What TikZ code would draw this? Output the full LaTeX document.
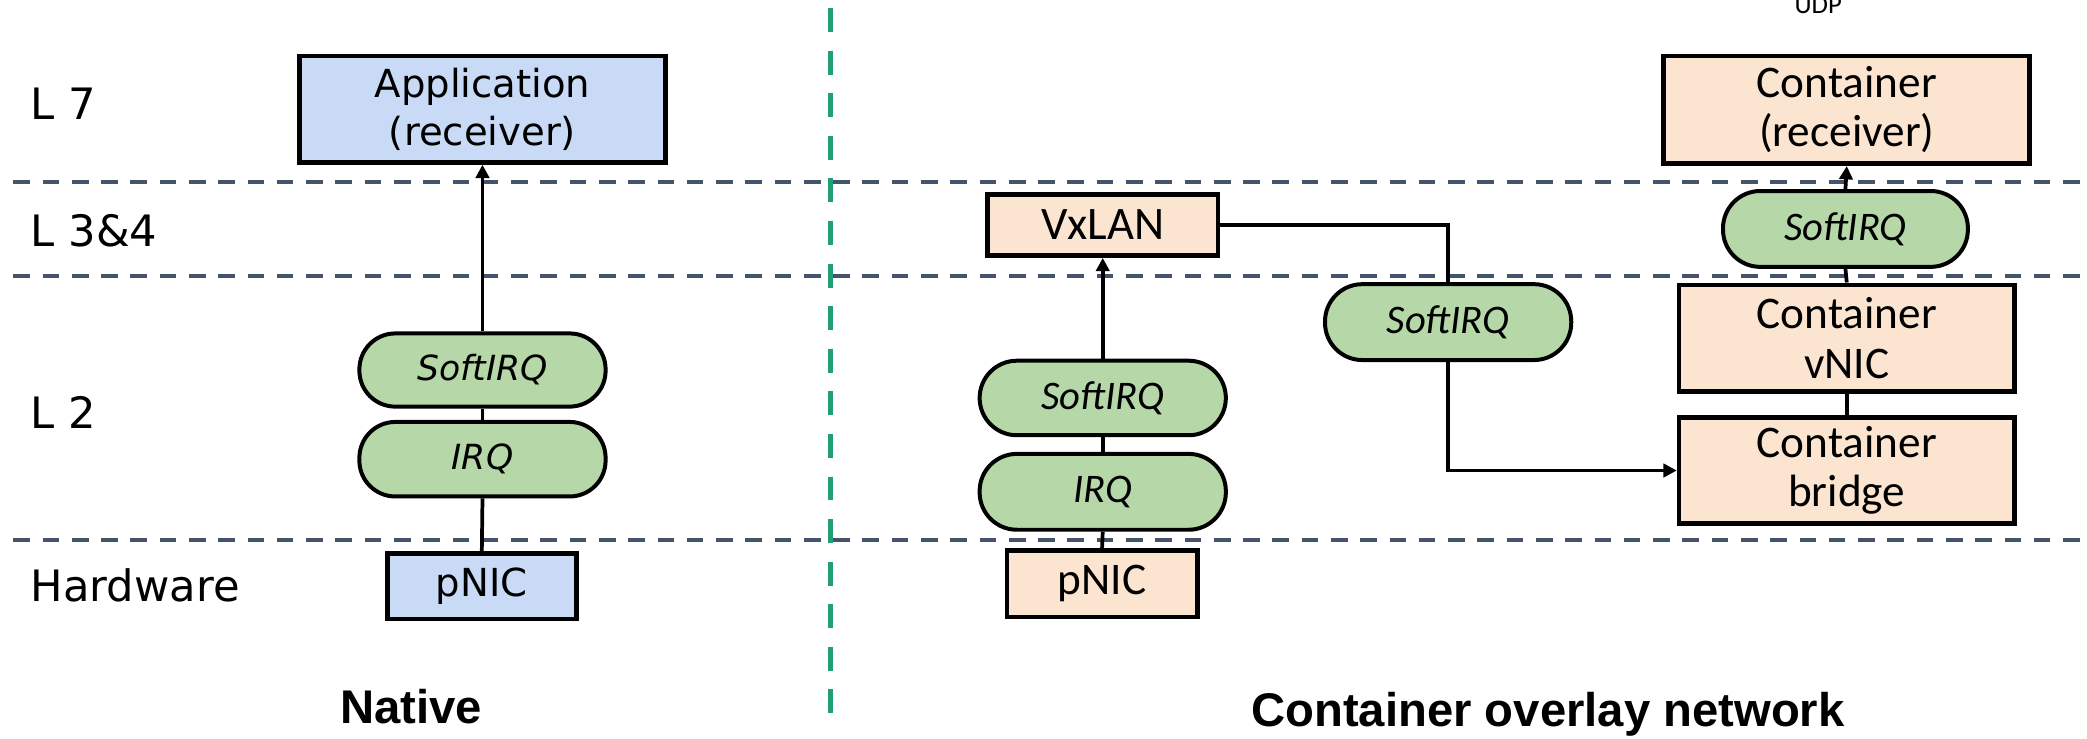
\documentclass[tikz,border=0pt]{standalone}
\usepackage{fontspec}
\setmainfont{DejaVu Sans}
\newfontfamily\calfont{Carlito}
\newfontfamily\titlefont{Liberation Sans}
\usetikzlibrary{arrows.meta}
\definecolor{boxblue}{RGB}{200,218,246}
\definecolor{boxorange}{RGB}{251,229,208}
\definecolor{pillgreen}{RGB}{182,215,168}
\definecolor{layerdash}{RGB}{68,84,106}
\definecolor{sepgreen}{RGB}{34,158,120}
\tikzset{
  layerline/.style={draw=layerdash, line width=3pt, dash pattern=on 12.5pt off 9.5pt},
  sepline/.style={draw=sepgreen, line width=3.5pt, dash pattern=on 18pt off 14pt},
  boxbase/.style={draw, line width=3.5pt, rectangle, inner sep=0pt, align=center},
  bluebox/.style={boxbase, fill=boxblue, font=\fontsize{29}{36}\selectfont},
  orangebox/.style={boxbase, fill=boxorange, font=\calfont\fontsize{34}{37}\selectfont},
  pillL/.style={draw, line width=3pt, fill=pillgreen, rounded corners=27pt, inner sep=0pt,
     minimum width=185pt, minimum height=55pt, font=\itshape\fontsize{26}{30}\selectfont},
  pillR/.style={draw, line width=3pt, fill=pillgreen, rounded corners=28pt, inner sep=0pt,
     minimum width=184pt, minimum height=56pt, font=\calfont\itshape\fontsize{30.5}{34}\selectfont},
  conn/.style={draw, line width=2.8pt},
  arr/.style={conn, -{Triangle[width=10pt,length=10pt]}},
  layerlabel/.style={anchor=west, inner sep=0pt, font=\fontsize{32.5}{36}\selectfont},
  titletext/.style={inner sep=0pt, font=\titlefont\bfseries\fontsize{35.5}{40}\selectfont}
}
\begin{document}
\begin{tikzpicture}[x=1pt,y=-1pt]
\useasboundingbox[fill=white] (0,0) rectangle (1568,555);

% layer separators
\draw[layerline] (10,137) -- (1568,137);
\draw[layerline] (10,207) -- (1568,207);
\draw[layerline] (10,405.5) -- (1568,405.5);
% native / overlay separator
\draw[sepline] (624,6) -- (624,540);

% layer labels
\node[layerlabel] (l7) at (23,78) {L 7};
\node[layerlabel] (l34) at (23,173) {L 3\&4};
\node[layerlabel] (l2) at (23,310) {L 2};
\node[layerlabel] (hw) at (23,440) {Hardware};

% native stack
\node[bluebox, minimum width=275pt, minimum height=80pt] (app) at (362.5,82) {Application\\(receiver)};
\node[pillL] (sirqL) at (362.5,278) {SoftIRQ};
\node[pillL, minimum height=56pt] (irqL) at (362.5,345) {IRQ};
\node[bluebox, minimum width=142pt, minimum height=49pt] (pnicL) at (362,440.5) {pNIC};

% overlay stack
\node[orangebox, minimum width=173pt, minimum height=46pt, font=\calfont\fontsize{35}{38}\selectfont] (vxlan) at (828.5,169) {VxLAN};
\node[pillR, minimum width=185pt] (sirqM) at (828.5,299) {SoftIRQ};
\node[pillR, minimum width=185pt, minimum height=57pt] (irqM) at (828.5,369.5) {IRQ};
\node[orangebox, minimum width=143pt, minimum height=50pt] (pnicM) at (828,438.5) {pNIC};

\node[pillR, minimum width=185pt, minimum height=57pt] (sirqX) at (1088,242) {SoftIRQ};

\node[orangebox, minimum width=252pt, minimum height=80pt] (bridge) at (1387.5,353.5) {Container\\bridge};
\node[orangebox, minimum width=252pt, minimum height=80pt] (vnic) at (1387.5,254) {Container\\vNIC};
\node[pillR, minimum height=57pt] (sirqR) at (1386.5,172) {SoftIRQ};
\node[orangebox, minimum width=275pt, minimum height=81pt] (crecv) at (1387.5,82.5) {Container\\(receiver)};

\node[anchor=base, inner sep=0pt, font=\calfont\fontsize{20}{24}\selectfont] (udp) at (1366,10) {UDP};

% connectors: native
\draw[conn] (pnicL.north) -- (irqL.south);
\draw[conn] (irqL.north) -- (sirqL.south);
\draw[arr] (sirqL.north) -- (app.south);

% connectors: overlay
\draw[conn] (pnicM.north) -- (irqM.south);
\draw[conn] (irqM.north) -- (sirqM.south);
\draw[arr] (sirqM.north) -- (vxlan.south);
\draw[conn] (vxlan.east) -| (sirqX.north);
\draw[arr] (sirqX.south) |- (bridge.west);
\draw[conn] (bridge.north) -- (vnic.south);
\draw[conn] (vnic.north) -- (sirqR.south);
\draw[arr] (sirqR.north) -- (crecv.south);

% titles
\node[titletext] (tnative) at (309,531) {Native};
\node[titletext] (toverlay) at (1163,537) {Container overlay network};
\end{tikzpicture}
\end{document}
